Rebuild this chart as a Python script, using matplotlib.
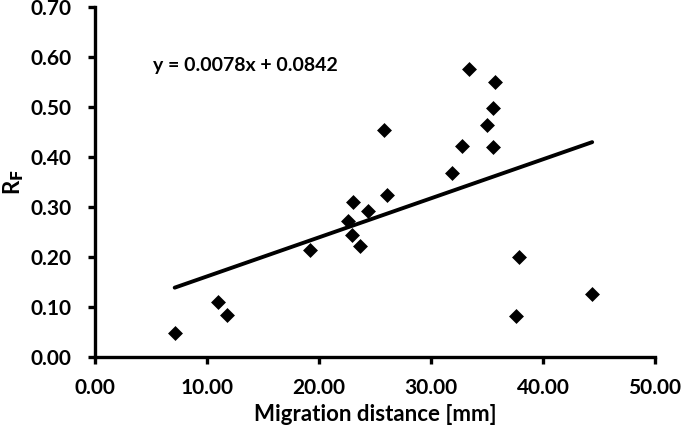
import matplotlib
matplotlib.use("Agg")
import matplotlib.pyplot as plt
import numpy as np

# migration distance [mm] vs R_F
dist = [7.1, 11.0, 11.8, 19.2, 22.6, 22.9, 23.0, 23.7, 24.4, 25.8, 26.1,
        31.9, 32.8, 33.4, 35.0, 35.5, 35.5, 35.7, 37.6, 37.9, 44.4]
rf = [0.048, 0.110, 0.084, 0.214, 0.272, 0.245, 0.310, 0.223, 0.293, 0.455, 0.324,
      0.368, 0.423, 0.576, 0.465, 0.498, 0.420, 0.550, 0.083, 0.200, 0.126]

# linear trend line (as printed on the chart)
slope = 0.0078
intercept = 0.0842

plt.rcParams["font.family"] = ["Lato", "DejaVu Sans"]
plt.rcParams["font.weight"] = "bold"

fig = plt.figure(figsize=(6.85, 4.32), dpi=100)
ax = fig.add_axes([0.139, 0.1725, 0.817, 0.8105])

ax.scatter(dist, rf, marker="D", s=7.6 ** 2, color="black", zorder=3, linewidths=0)

tx = np.array([min(dist), max(dist)])
ax.plot(tx, slope * tx + intercept, color="black", lw=2.8, solid_capstyle="round", zorder=2)

ax.text(0.103, 0.835, "y = 0.0078x + 0.0842", transform=ax.transAxes,
        fontsize=14, fontweight="bold", va="center", ha="left")

ax.set_xlim(0, 50)
ax.set_ylim(0, 0.70)
ax.set_xticks(np.arange(0, 51, 10))
ax.set_yticks(np.arange(0, 0.71, 0.1))
ax.set_xticklabels(["%.2f" % v for v in np.arange(0, 51, 10)])
ax.set_yticklabels(["%.2f" % v for v in np.arange(0, 0.71, 0.1)])

for s in ["top", "right"]:
    ax.spines[s].set_visible(False)
for s in ["left", "bottom"]:
    ax.spines[s].set_linewidth(2.4)
    ax.spines[s].set_capstyle("projecting")

ax.tick_params(direction="out", length=5, width=2.4, labelsize=15)
ax.tick_params(axis="y", pad=12)
ax.tick_params(axis="x", pad=10)
for lab in ax.get_xticklabels() + ax.get_yticklabels():
    lab.set_fontweight("bold")

ax.set_xlabel("Migration distance [mm]", fontsize=16, fontweight="bold", labelpad=4)
# y label placed by hand so it is not cut at the left edge
fig.text(0.02, 0.578, "R$_\\mathbf{F}$", fontsize=16, fontweight="bold",
         rotation=90, ha="center", va="center")

fig.savefig("out.png", dpi=100)
